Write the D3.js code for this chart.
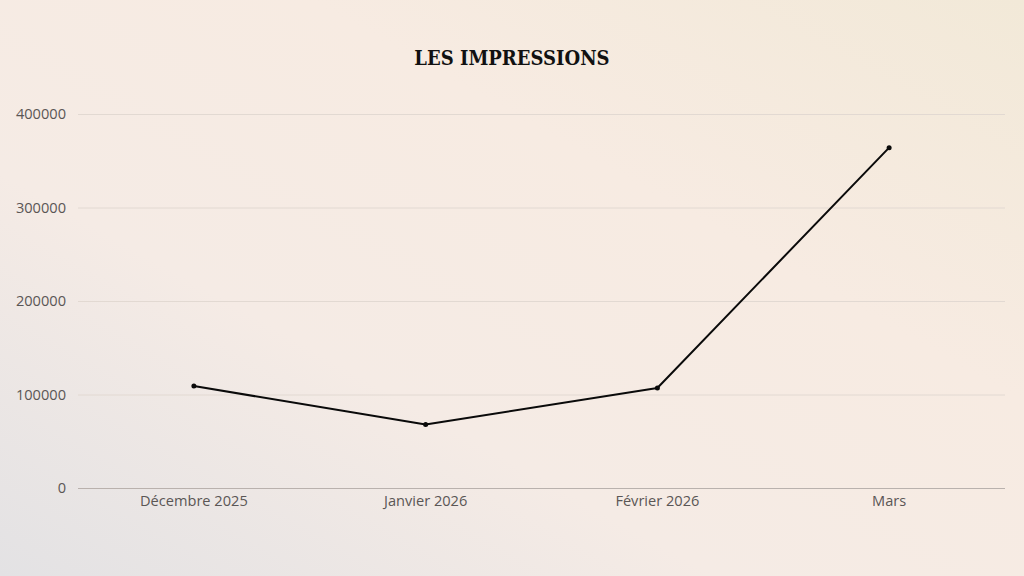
<!DOCTYPE html>
<html><head><meta charset="utf-8">
<script src="https://cdn.jsdelivr.net/npm/d3@7"></script>
<style>html,body{margin:0;padding:0;overflow:hidden;}</style>
</head><body>
<svg id="c" width="1024" height="576"></svg>
<script>
const categories = ["Décembre 2025", "Janvier 2026", "Février 2026", "Mars"];
const values = [109000, 68000, 107000, 364000];
const yTicks = [0, 100000, 200000, 300000, 400000];
const title = "LES IMPRESSIONS";

const W = 1024, H = 576;
const m = {left: 78, right: 19, top: 114, bottom: 88};
const svg = d3.select("#c");
const defs = svg.append("defs");
const g = defs.append("linearGradient").attr("id","bg")
  .attr("x1","0%").attr("y1","100%").attr("x2","100%").attr("y2","0%");
g.append("stop").attr("offset","0%").attr("stop-color","#e3e2e4");
g.append("stop").attr("offset","35%").attr("stop-color","#f5ebe5");
g.append("stop").attr("offset","65%").attr("stop-color","#f7ebe2");
g.append("stop").attr("offset","100%").attr("stop-color","#f2e9d8");
svg.append("rect").attr("width",W).attr("height",H).attr("fill","url(#bg)");

const x = d3.scaleBand().domain(categories).range([m.left, W - m.right]).padding(0);
const y = d3.scaleLinear().domain([0, 400000]).range([H - m.bottom, m.top]);

svg.append("text").attr("x", 512).attr("y", 65).attr("text-anchor","middle")
  .attr("font-family","'DejaVu Serif Condensed', 'DejaVu Serif', serif").attr("font-weight","bold")
  .attr("font-size", 20).attr("fill","#111").text(title);

const yAxis = svg.append("g").attr("transform",`translate(${m.left},0)`)
  .call(d3.axisLeft(y).tickValues(yTicks).tickSize(-(W - m.left - m.right)).tickPadding(12).tickFormat(d3.format("d")));
yAxis.select(".domain").remove();
yAxis.selectAll(".tick line").attr("stroke", d => d === 0 ? "#b9b1ad" : "#e2d9d2").attr("stroke-width",1);
yAxis.selectAll(".tick text").attr("font-family","'Open Sans', sans-serif").attr("font-size",14.6).attr("fill","#5a5655");

const xAxis = svg.append("g").attr("transform",`translate(0,${H - m.bottom})`)
  .call(d3.axisBottom(x).tickSize(0).tickPadding(8));
xAxis.select(".domain").remove();
xAxis.selectAll(".tick text").attr("font-family","'Open Sans', sans-serif").attr("font-size",14.6).attr("fill","#5a5655");

const cx = d => x(d) + x.bandwidth()/2;
const line = d3.line().x((d,i) => cx(categories[i])).y(d => y(d));
svg.append("path").datum(values).attr("d", line).attr("fill","none")
  .attr("stroke","#0a0a0a").attr("stroke-width",2).attr("stroke-linejoin","round");
svg.selectAll("circle.pt").data(values).enter().append("circle").attr("class","pt")
  .attr("cx",(d,i) => cx(categories[i])).attr("cy", d => y(d)).attr("r",2.5).attr("fill","#0a0a0a");
</script>
</body></html>
